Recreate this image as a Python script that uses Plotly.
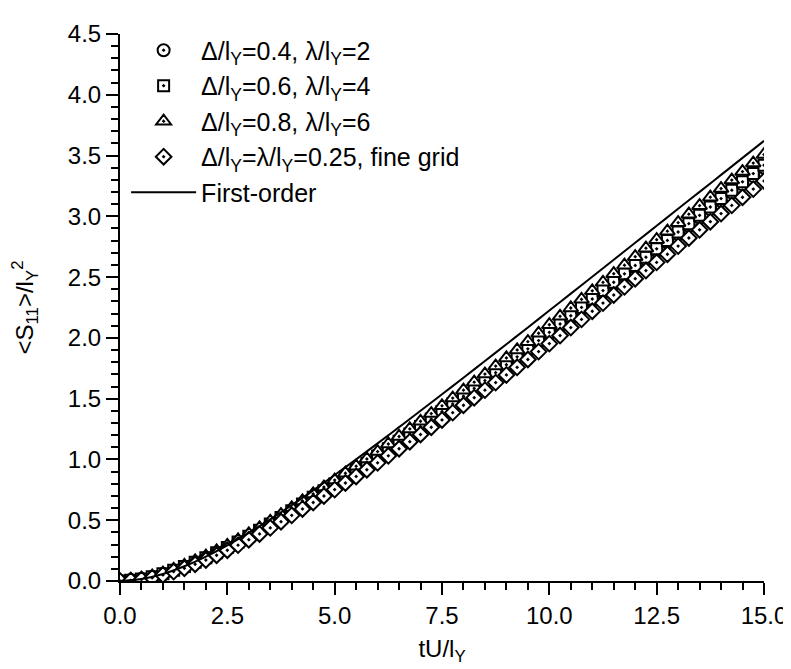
import plotly.graph_objects as go

# Data
t_markers = [0.0, 0.25, 0.5, 0.75, 1.0, 1.25, 1.5, 1.75, 2.0, 2.25, 2.5, 2.75, 3.0, 3.25, 3.5, 3.75,
             4.0, 4.25, 4.5, 4.75, 5.0, 5.25, 5.5, 5.75, 6.0, 6.25, 6.5, 6.75, 7.0, 7.25, 7.5, 7.75,
             8.0, 8.25, 8.5, 8.75, 9.0, 9.25, 9.5, 9.75, 10.0, 10.25, 10.5, 10.75, 11.0, 11.25, 11.5,
             11.75, 12.0, 12.25, 12.5, 12.75, 13.0, 13.25, 13.5, 13.75, 14.0, 14.25, 14.5, 14.75, 15.0]

s_d04 = [0.0, 0.006, 0.016, 0.033, 0.058, 0.087, 0.117, 0.152, 0.189, 0.23, 0.273, 0.317, 0.364, 0.412,
         0.464, 0.517, 0.571, 0.626, 0.681, 0.736, 0.791, 0.847, 0.903, 0.96, 1.019, 1.079, 1.139, 1.199,
         1.26, 1.321, 1.383, 1.445, 1.508, 1.572, 1.636, 1.7, 1.765, 1.83, 1.896, 1.963, 2.031, 2.098,
         2.166, 2.235, 2.303, 2.372, 2.441, 2.509, 2.578, 2.646, 2.715, 2.783, 2.852, 2.92, 2.989, 3.057,
         3.126, 3.195, 3.263, 3.331, 3.4]

s_d06 = [0.0, 0.006, 0.017, 0.034, 0.059, 0.088, 0.119, 0.154, 0.192, 0.233, 0.276, 0.321, 0.368, 0.417,
         0.469, 0.523, 0.577, 0.633, 0.688, 0.743, 0.799, 0.855, 0.911, 0.968, 1.028, 1.088, 1.149, 1.209,
         1.27, 1.332, 1.395, 1.457, 1.52, 1.585, 1.649, 1.714, 1.779, 1.844, 1.91, 1.978, 2.046, 2.114,
         2.182, 2.251, 2.32, 2.389, 2.458, 2.527, 2.596, 2.664, 2.733, 2.802, 2.871, 2.94, 3.008, 3.077,
         3.146, 3.215, 3.284, 3.352, 3.421]

s_d08 = [0.0, 0.008, 0.02, 0.039, 0.065, 0.096, 0.128, 0.165, 0.204, 0.247, 0.292, 0.338, 0.387, 0.437,
         0.491, 0.546, 0.602, 0.659, 0.716, 0.773, 0.83, 0.887, 0.945, 1.004, 1.065, 1.127, 1.189, 1.251,
         1.314, 1.377, 1.441, 1.505, 1.57, 1.636, 1.702, 1.768, 1.835, 1.901, 1.969, 2.038, 2.108, 2.177,
         2.246, 2.317, 2.387, 2.457, 2.528, 2.598, 2.668, 2.738, 2.808, 2.878, 2.948, 3.018, 3.088, 3.158,
         3.228, 3.298, 3.368, 3.438, 3.508]

s_fine = [0.0, 0.004, 0.012, 0.027, 0.05, 0.077, 0.105, 0.138, 0.173, 0.212, 0.253, 0.295, 0.34, 0.387,
          0.437, 0.488, 0.54, 0.593, 0.646, 0.699, 0.752, 0.806, 0.86, 0.915, 0.972, 1.03, 1.088, 1.146,
          1.205, 1.265, 1.325, 1.385, 1.446, 1.508, 1.57, 1.632, 1.695, 1.758, 1.822, 1.887, 1.953, 2.019,
          2.085, 2.152, 2.219, 2.286, 2.353, 2.42, 2.487, 2.554, 2.621, 2.688, 2.755, 2.822, 2.889, 2.956,
          3.023, 3.09, 3.157, 3.224, 3.291]

t_line = [0.0, 0.5, 1.0, 1.5, 2.0, 2.5, 3.0, 3.5, 4.0, 4.5, 5.0, 5.5, 6.0, 6.5, 7.0, 7.5, 8.0, 8.5, 9.0,
          9.5, 10.0, 10.5, 11.0, 11.5, 12.0, 12.5, 13.0, 13.5, 14.0, 14.5, 15.0]
s_first = [0.0, 0.016, 0.058, 0.121, 0.201, 0.294, 0.396, 0.507, 0.624, 0.746, 0.872, 1.001, 1.132,
           1.266, 1.40, 1.536, 1.672, 1.81, 1.948, 2.086, 2.225, 2.364, 2.503, 2.643, 2.782, 2.922,
           3.062, 3.201, 3.341, 3.481, 3.621]

names = ["Δ/l<sub>Y</sub>=0.4, λ/l<sub>Y</sub>=2",
         "Δ/l<sub>Y</sub>=0.6, λ/l<sub>Y</sub>=4",
         "Δ/l<sub>Y</sub>=0.8, λ/l<sub>Y</sub>=6",
         "Δ/l<sub>Y</sub>=λ/l<sub>Y</sub>=0.25, fine grid",
         "First-order"]

FONT = "Liberation Sans, Arial, sans-serif"

fig = go.Figure()
series = [(s_d04, "circle-dot", 12), (s_d06, "square-dot", 11),
          (s_d08, "triangle-up-dot", 13), (s_fine, "diamond-dot", 12)]
for i, ((vals, sym, sz), nm) in enumerate(zip(series, names[:4])):
    fig.add_trace(go.Scatter(
        x=t_markers, y=vals, mode="markers", name=nm, legendgroup=f"g{i}",
        marker=dict(symbol=sym, size=sz, color="white",
                    line=dict(color="black", width=2))))

fig.add_trace(go.Scatter(x=t_line, y=s_first, mode="lines", name=names[4], legendgroup="g4",
                         line=dict(color="black", width=2, shape="spline")))

axis_common = dict(
    showline=True, linecolor="black", linewidth=2, mirror=False,
    ticks="outside", ticklen=12, tickwidth=2, tickcolor="black",
    showgrid=False, zeroline=False,
    tickfont=dict(family=FONT, size=24, color="black"),
)

fig.update_xaxes(range=[0, 15], dtick=2.5, tick0=0, tickformat=".1f",
                 minor=dict(ticks="outside", ticklen=7, tickwidth=2, tickcolor="black",
                            dtick=0.5, tick0=0, showgrid=False),
                 title=dict(text="tU/l<sub>Y</sub>", font=dict(family=FONT, size=24, color="black"),
                            standoff=12),
                 **axis_common)
fig.update_yaxes(range=[0, 4.5], dtick=0.5, tick0=0, tickformat=".1f",
                 minor=dict(ticks="outside", ticklen=7, tickwidth=2, tickcolor="black",
                            dtick=0.1, tick0=0, showgrid=False),
                 title=dict(text="&lt;S<sub>11</sub>&gt;/l<sub>Y</sub><sup>2</sup>",
                            font=dict(family=FONT, size=24, color="black"), standoff=28),
                 **axis_common)

fig.update_layout(
    width=791, height=669,
    margin=dict(l=112, r=28, t=18, b=96),
    paper_bgcolor="white", plot_bgcolor="white",
    font=dict(family=FONT, size=24, color="black"),
    showlegend=True,
    legend=dict(x=0.0095, y=1.012, xanchor="left", yanchor="top",
                bgcolor="rgba(0,0,0,0)", borderwidth=0,
                font=dict(family=FONT, size=25, color="black"),
                itemwidth=65, tracegroupgap=0),
)

fig.write_html("out.html")
